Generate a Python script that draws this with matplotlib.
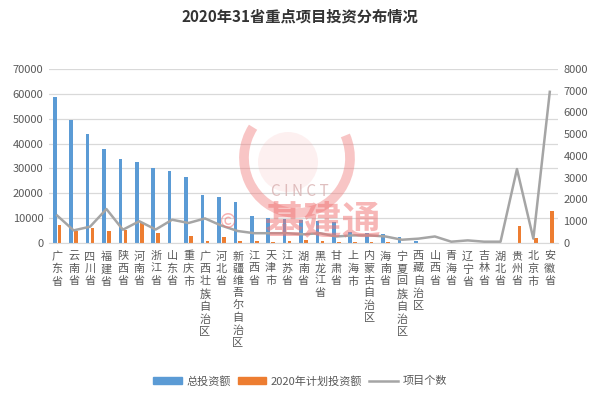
import matplotlib
matplotlib.use("Agg")
import matplotlib.pyplot as plt
import numpy as np
from matplotlib.patches import Arc, Circle
from matplotlib.lines import Line2D
from matplotlib.patches import Patch

plt.rcParams['font.family'] = ['Noto Sans CJK SC', 'DejaVu Sans']

provinces = ["广东省", "云南省", "四川省", "福建省", "陕西省", "河南省", "浙江省", "山东省",
             "重庆市", "广西壮族自治区", "河北省", "新疆维吾尔自治区", "江西省", "天津市",
             "江苏省", "湖南省", "黑龙江省", "甘肃省", "上海市", "内蒙古自治区", "海南省",
             "宁夏回族自治区", "西藏自治区", "山西省", "青海省", "辽宁省", "吉林省", "湖北省",
             "贵州省", "北京市", "安徽省"]
total_invest = [58800, 49500, 44000, 37900, 33700, 32700, 30000, 28800, 26700, 19300,
                18400, 16500, 10900, 10000, 9800, 9300, 9000, 8300, 4500, 3900, 3800,
                2300, 1000, 0, 0, 0, 0, 0, 0, 0, 0]
plan_2020 = [7200, 5000, 6200, 4800, 5200, 8200, 3900, 0, 2900, 1000,
             2400, 800, 1000, 600, 900, 1200, 1000, 500, 500, 300, 400,
             200, 0, 0, 0, 0, 0, 0, 7000, 2100, 13000]
project_count = [1260, 580, 750, 1560, 610, 1000, 620, 1070, 920, 1130,
                 800, 550, 450, 450, 450, 400, 450, 300, 350, 350, 300,
                 150, 200, 300, 60, 120, 60, 60, 3400, 200, 6950]

left_ticks = [0, 10000, 20000, 30000, 40000, 50000, 60000, 70000]
right_ticks = [0, 1000, 2000, 3000, 4000, 5000, 6000, 7000, 8000]
legend_labels = ["总投资额", "2020年计划投资额", "项目个数"]
title = "2020年31省重点项目投资分布情况"

blue = "#5B9BD5"
orange = "#ED7D31"
gray = "#A5A5A5"
tick_color = "#595959"

fig = plt.figure(figsize=(6.0, 3.97), dpi=100)
ax = fig.add_axes([49/600, 1-243/397, (558-49)/600, (243-69)/397])
ax2 = ax.twinx()

x = np.arange(len(provinces))
w = 0.22
ax.bar(x - 0.15, total_invest, width=w, color=blue, zorder=2)
ax.bar(x + 0.15, plan_2020, width=w, color=orange, zorder=2)
ax2.plot(x, project_count, color=gray, lw=1.8, zorder=3)

ax.set_xlim(-0.5, len(provinces) - 0.5)
ax.set_ylim(0, 70000)
ax2.set_ylim(0, 8000)
ax.set_yticks(left_ticks)
ax.set_yticklabels([str(v) for v in left_ticks])
ax2.set_yticks(right_ticks)
ax2.set_yticklabels([str(v) for v in right_ticks])
ax.grid(axis='y', color="#D9D9D9", lw=0.9, zorder=0)
ax.set_axisbelow(True)
for a in (ax, ax2):
    for s in a.spines.values():
        s.set_visible(False)
    a.tick_params(axis='y', length=0, labelsize=8, colors=tick_color, pad=4)
ax.spines['bottom'].set_visible(True)
ax.spines['bottom'].set_color("#D9D9D9")
ax.tick_params(axis='x', length=0, pad=6)
ax.set_xticks(x)
ax.set_xticklabels(["\n".join(p) for p in provinces], fontsize=8, color=tick_color,
                   linespacing=1.27, va='top')

fig.text(0.5, 1 - 17/397, title, ha='center', va='center', fontsize=11, fontweight='bold',
         color="#333333")

# watermark
wm_ax = fig.add_axes([0, 0, 1, 1], facecolor='none')
wm_ax.set_xlim(0, 600)
wm_ax.set_ylim(397, 0)
wm_ax.axis('off')
wm_ax.add_patch(Circle((288, 162), 30, color="#F4A0A0", alpha=0.15, lw=0))
wm_ax.add_patch(Arc((297, 158), 106, 110, theta1=-25, theta2=215, color="#F08080", lw=7, alpha=0.45))
wm_ax.text(300, 192, "C I N C T", ha='center', va='center', fontsize=11, color="#D8B0B0", alpha=0.8)
wm_ax.text(228, 222, "©", ha='center', va='center', fontsize=14, color="#F07070", alpha=0.55)
wm_ax.text(322, 222, "基建通", ha='center', va='center', fontsize=28, fontweight='bold',
           color="#F07070", alpha=0.5)

handles = [Patch(color=blue), Patch(color=orange), Line2D([0], [0], color=gray, lw=1.8)]
fig.legend(handles, legend_labels, loc='center', bbox_to_anchor=(0.5, 1 - 381/397), ncol=3,
           frameon=False, fontsize=8, handlelength=2.6, handleheight=0.5, columnspacing=0.6,
           handletextpad=0.4, labelcolor=tick_color)

fig.savefig("out.png", dpi=100)
